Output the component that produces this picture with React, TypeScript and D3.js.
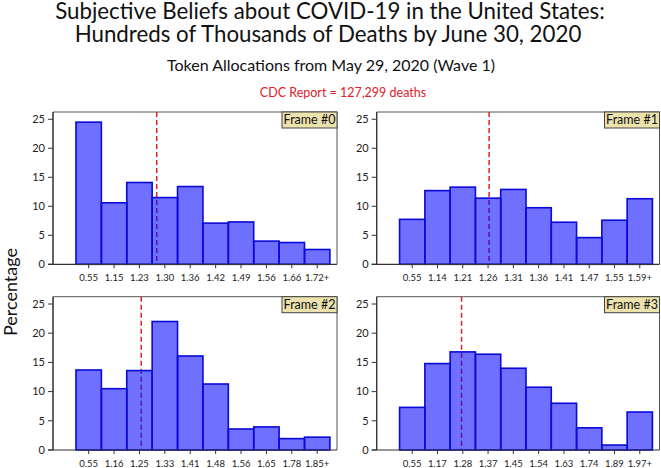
import React from "react";
import * as d3 from "d3";

const titleLines = [
  "Subjective Beliefs about COVID-19 in the United States:",
  "Hundreds of Thousands of Deaths by June 30, 2020",
];
const subtitle = "Token Allocations from May 29, 2020 (Wave 1)";
const cdcNote = "CDC Report = 127,299 deaths";
const yLabel = "Percentage";
const yTicks = [0, 5, 10, 15, 20, 25];

const frameNames = ["Frame #0", "Frame #1", "Frame #2", "Frame #3"];

const labels0 = ["0.55", "1.15", "1.23", "1.30", "1.36", "1.42", "1.49", "1.56", "1.66", "1.72+"];
const labels1 = ["0.55", "1.14", "1.21", "1.26", "1.31", "1.36", "1.41", "1.47", "1.55", "1.59+"];
const labels2 = ["0.55", "1.16", "1.25", "1.33", "1.41", "1.48", "1.56", "1.65", "1.78", "1.85+"];
const labels3 = ["0.55", "1.17", "1.28", "1.37", "1.45", "1.54", "1.63", "1.74", "1.89", "1.97+"];

const values0 = [24.5, 10.6, 14.1, 11.5, 13.4, 7.1, 7.3, 4.0, 3.75, 2.55];
const values1 = [7.75, 12.7, 13.3, 11.4, 12.9, 9.75, 7.25, 4.6, 7.6, 11.3];
const values2 = [13.7, 10.5, 13.6, 22.0, 16.1, 11.3, 3.6, 3.95, 1.95, 2.2];
const values3 = [7.3, 14.8, 16.8, 16.4, 14.0, 10.75, 8.0, 3.8, 0.85, 6.5];

// CDC report position in bar-index units
const cdcPos = [2.68, 3.04, 2.07, 1.95];

const panelLabels = [labels0, labels1, labels2, labels3];
const panelValues = [values0, values1, values2, values3];

const W = 661;
const H = 468;
const font = "Lato, 'Open Sans', sans-serif";

const colX = [[53, 337], [376.7, 659.5]];
const rowY = [[112, 264.3], [296.7, 450]];

function Panel({ idx }: { idx: number }) {
  const col = idx % 2;
  const row = Math.floor(idx / 2);
  const [x0, x1] = colX[col];
  const [y0, y1] = rowY[row];
  const x = d3.scaleLinear().domain([-1.405, 9.78]).range([x0, x1]);
  const y = d3.scaleLinear().domain([0, 26.25]).range([y1, y0]);
  const vals = panelValues[idx];
  const labs = panelLabels[idx];
  const fx = x(cdcPos[idx]);
  const fw = 55;
  const fh = 16;
  return (
    <g>
      <path
        d={`M${x0},${y1}V${y0}H${x1}V${y1}`}
        fill="none"
        stroke="#555"
        strokeWidth={1}
      />
      <line x1={fx} x2={fx} y1={y0} y2={y1} stroke="#d62728" strokeWidth={1.5} strokeDasharray="5,3" />
      {vals.map((v, i) => (
        <rect
          key={i}
          x={x(i - 0.5)}
          y={y(v)}
          width={x(i + 0.5) - x(i - 0.5)}
          height={y(0) - y(v)}
          fill="rgba(0,0,255,0.56)"
          stroke="#0a0ad8"
          strokeWidth={1.6}
        />
      ))}
      <line x1={x0 - 5} x2={x1} y1={y1} y2={y1} stroke="#333" strokeWidth={1.2} />
      <line x1={x0} x2={x0} y1={y0} y2={y1} stroke="#333" strokeWidth={1.2} />
      {yTicks.map((t) => (
        <g key={t}>
          <line x1={x0 - 5} x2={x0} y1={y(t)} y2={y(t)} stroke="#333" strokeWidth={1} />
          <text x={x0 - 8} y={y(t) + 3.8} textAnchor="end" fontSize={11} fill="#222" fontFamily={font}>
            {t}
          </text>
        </g>
      ))}
      {labs.map((l, i) => (
        <g key={i}>
          <line x1={x(i)} x2={x(i)} y1={y1} y2={y1 + 4} stroke="#333" strokeWidth={1} />
          <text x={x(i)} y={y1 + 17} textAnchor="middle" fontSize={9.5} fill="#222" fontFamily={font}>
            {l}
          </text>
        </g>
      ))}
      <rect x={x1 - fw} y={y0} width={fw} height={fh} fill="#ece2ae" stroke="#444" strokeWidth={1} />
      <text x={x1 - fw / 2} y={y0 + 12.3} textAnchor="middle" fontSize={12.5} fill="#111" fontFamily={font}>
        {frameNames[idx]}
      </text>
    </g>
  );
}

export default function App() {
  return (
    <svg width={W} height={H} style={{ position: "absolute", left: 0, top: 0, background: "#fff" }}>
      <rect width={W} height={H} fill="#fff" />
      <text x={330} y={19} textAnchor="middle" fontSize={22.3} fill="#111" fontFamily={font}>
        {titleLines[0]}
      </text>
      <text x={328} y={41.5} textAnchor="middle" fontSize={22.3} fill="#111" fontFamily={font}>
        {titleLines[1]}
      </text>
      <text x={331} y={71} textAnchor="middle" fontSize={16} fill="#111" fontFamily={font}>
        {subtitle}
      </text>
      <text x={343} y={97} textAnchor="middle" fontSize={12.5} fill="#e0202a" fontFamily={font}>
        {cdcNote}
      </text>
      <text
        transform="translate(17,292) rotate(-90)"
        textAnchor="middle"
        fontSize={18}
        fill="#111"
        fontFamily={font}
      >
        {yLabel}
      </text>
      {[0, 1, 2, 3].map((i) => (
        <Panel key={i} idx={i} />
      ))}
    </svg>
  );
}
